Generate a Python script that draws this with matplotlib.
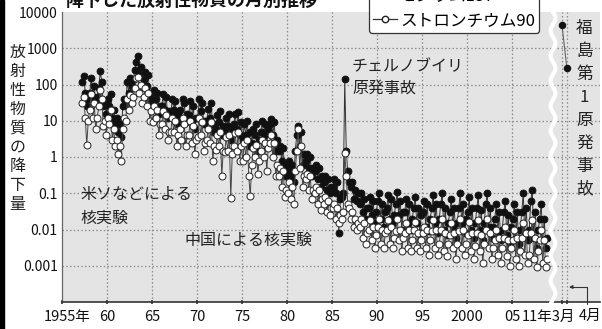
import numpy as np
import matplotlib
matplotlib.use("Agg")
import matplotlib.pyplot as plt
from matplotlib.lines import Line2D
from matplotlib.patches import Rectangle
from matplotlib.transforms import ScaledTranslation

plt.rcParams['font.family'] = ['Noto Sans CJK JP', 'DejaVu Sans']

# bimonthly fallout values (Jan-Feb, Mar-Apr, ... Nov-Dec)
# series starts Mar-Apr 1957
cs137_1957_1969 = [
    120, 170, 60, 25, 40,            # 1957
    60, 150, 45, 90, 30, 45,         # 1958
    80, 230, 120, 25, 35, 15,        # 1959
    40, 25, 55, 12, 20, 8,           # 1960
    12, 5, 8, 3.5, 25, 40,           # 1961
    30, 120, 60, 150, 90, 130,       # 1962
    250, 420, 600, 200, 300, 100,    # 1963
    140, 220, 90, 180, 40, 60,       # 1964
    30, 70, 40, 60, 15, 25,          # 1965
    25, 55, 20, 45, 12, 18,          # 1966
    15, 40, 20, 35, 8, 14,           # 1967
    20, 12, 40, 30, 9, 15,           # 1968
    14, 35, 10, 25, 6, 12,           # 1969
]
cs137_1970_1987 = [
    12, 40, 18, 30, 8, 10,           # 1970
    10, 21, 12, 30, 5, 8,            # 1971
    6, 14, 9, 18, 4, 7,              # 1972
    5, 12, 7, 15, 3, 6,              # 1973
    8, 15, 6, 17, 4, 9,              # 1974
    3, 8, 4, 10, 2, 5,               # 1975
    2.5, 6, 4, 8, 1.5, 3,            # 1976
    5, 10, 4, 8, 2, 6,               # 1977
    8, 11, 4, 9, 1.5, 3,             # 1978
    1.5, 2, 0.8, 1.8, 0.3, 0.6,      # 1979
    0.4, 0.8, 0.3, 0.6, 0.2, 1.5,    # 1980
    4, 7, 2, 5, 0.6, 1.2,            # 1981
    0.8, 1.2, 0.5, 1, 0.3, 0.5,      # 1982
    0.4, 0.6, 0.25, 0.5, 0.15, 0.3,  # 1983
    0.2, 0.3, 0.12, 0.25, 0.1, 0.15, # 1984
    0.15, 0.25, 0.1, 0.2, 0.008, 0.07,  # 1985
    0.08, 0.1, 140, 1.5, 0.4, 0.2,   # 1986
    0.15, 0.2, 0.07, 0.12, 0.06, 0.1,   # 1987
]
cs137_1988_2008 = [
    0.05, 0.1, 0.03, 0.07, 0.02, 0.04,      # 1988
    0.04, 0.08, 0.025, 0.06, 0.015, 0.03,   # 1989
    0.06, 0.1, 0.02, 0.05, 0.012, 0.03,     # 1990
    0.04, 0.09, 0.02, 0.07, 0.015, 0.025,   # 1991
    0.05, 0.11, 0.025, 0.06, 0.01, 0.03,    # 1992
    0.03, 0.07, 0.015, 0.05, 0.01, 0.02,    # 1993
    0.04, 0.08, 0.015, 0.04, 0.008, 0.025,  # 1994
    0.03, 0.06, 0.012, 0.05, 0.009, 0.02,   # 1995
    0.04, 0.09, 0.015, 0.05, 0.008, 0.02,   # 1996
    0.05, 0.1, 0.01, 0.04, 0.007, 0.015,    # 1997
    0.03, 0.07, 0.012, 0.04, 0.006, 0.015,  # 1998
    0.04, 0.1, 0.015, 0.05, 0.008, 0.02,    # 1999
    0.03, 0.08, 0.01, 0.04, 0.006, 0.015,   # 2000
    0.04, 0.09, 0.01, 0.035, 0.005, 0.015,  # 2001
    0.05, 0.1, 0.012, 0.04, 0.006, 0.012,   # 2002
    0.02, 0.05, 0.008, 0.03, 0.005, 0.01,   # 2003
    0.03, 0.06, 0.007, 0.025, 0.004, 0.012, # 2004
    0.02, 0.05, 0.006, 0.03, 0.004, 0.01,   # 2005
    0.03, 0.1, 0.008, 0.04, 0.005, 0.01,    # 2006
    0.06, 0.12, 0.006, 0.03, 0.003, 0.01,   # 2007
    0.02, 0.05, 0.005, 0.02, 0.003, 0.006,  # 2008
]

sr90_1957_1969 = [
    30, 45, 12, 2.2, 10,             # 1957
    20, 55, 12, 30, 6, 12,           # 1958
    25, 70, 40, 7, 10, 4,            # 1959
    12, 8, 20, 3, 6, 2,              # 1960
    3, 1.2, 2, 0.8, 6, 12,           # 1961
    10, 40, 20, 50, 30, 45,          # 1962
    80, 150, 160, 60, 100, 30,       # 1963
    45, 80, 25, 60, 10, 18,          # 1964
    9, 25, 12, 20, 4, 8,             # 1965
    8, 18, 6, 14, 3, 5,              # 1966
    5, 12, 5, 10, 2, 4,              # 1967
    6, 3, 12, 8, 2, 4,               # 1968
    4, 10, 2.5, 7, 1.2, 3,           # 1969
]
sr90_1970_1987 = [
    3.5, 12, 4, 9, 1.5, 2.5,         # 1970
    3, 6, 2.5, 9, 0.8, 2,            # 1971
    1.6, 4, 2, 5, 0.3, 1.5,          # 1972
    1.4, 3.5, 1.5, 4, 0.075, 1.2,    # 1973
    2, 4.5, 1.5, 5, 0.8, 2,          # 1974
    0.8, 2.5, 1, 3, 0.3, 0.085,      # 1975
    0.6, 1.8, 1, 2.2, 0.35, 0.8,     # 1976
    1.5, 3, 1, 2.5, 0.4, 1.8,        # 1977
    2.5, 4, 1, 2.5, 0.3, 0.6,        # 1978
    0.3, 0.5, 0.15, 0.4, 0.08, 0.12, # 1979
    0.1, 0.2, 0.07, 0.15, 0.05, 0.4, # 1980
    1.5, 6, 0.5, 2, 0.15, 0.3,       # 1981
    0.25, 0.35, 0.12, 0.3, 0.07, 0.12,   # 1982
    0.1, 0.15, 0.05, 0.12, 0.035, 0.07,  # 1983
    0.05, 0.08, 0.03, 0.06, 0.025, 0.04, # 1984
    0.04, 0.05, 0.02, 0.04, 0.015, 0.025,  # 1985
    0.02, 0.03, 1.3, 0.3, 0.05, 0.04,    # 1986
    0.02, 0.03, 0.012, 0.02, 0.01, 0.015,  # 1987
]
sr90_1988_2008 = [
    0.012, 0.02, 0.006, 0.015, 0.004, 0.008,    # 1988
    0.01, 0.018, 0.005, 0.012, 0.003, 0.007,    # 1989
    0.012, 0.02, 0.004, 0.01, 0.003, 0.008,     # 1990
    0.01, 0.018, 0.004, 0.012, 0.003, 0.006,    # 1991
    0.009, 0.02, 0.005, 0.01, 0.0025, 0.006,    # 1992
    0.008, 0.015, 0.003, 0.01, 0.0025, 0.005,   # 1993
    0.01, 0.016, 0.003, 0.008, 0.0025, 0.005,   # 1994
    0.008, 0.012, 0.003, 0.01, 0.002, 0.005,    # 1995
    0.009, 0.018, 0.003, 0.01, 0.002, 0.004,    # 1996
    0.01, 0.02, 0.0025, 0.008, 0.0018, 0.004,   # 1997
    0.007, 0.015, 0.003, 0.008, 0.0015, 0.004,  # 1998
    0.009, 0.02, 0.003, 0.01, 0.002, 0.004,     # 1999
    0.007, 0.016, 0.0025, 0.008, 0.0015, 0.0035,  # 2000
    0.008, 0.018, 0.0025, 0.007, 0.0012, 0.004,   # 2001
    0.01, 0.02, 0.003, 0.008, 0.0015, 0.003,      # 2002
    0.005, 0.01, 0.002, 0.006, 0.0012, 0.003,     # 2003
    0.006, 0.012, 0.0018, 0.005, 0.001, 0.003,    # 2004
    0.005, 0.01, 0.0015, 0.006, 0.001, 0.0025,    # 2005
    0.006, 0.015, 0.002, 0.008, 0.0012, 0.002,    # 2006
    0.008, 0.018, 0.0015, 0.006, 0.0009, 0.0025,  # 2007
    0.005, 0.01, 0.0012, 0.005, 0.0009, 0.0015,   # 2008
]

# Fukushima Daiichi, 2011
fuku_labels = ['3月', '4月']
fuku_cs137 = [4400, 280]

year_ticks = [1955, 1960, 1965, 1970, 1975, 1980, 1985, 1990, 1995, 2000, 2005]
year_labels = ['1955年', '60', '65', '70', '75', '80', '85', '90', '95', '2000', '05']
y_ticks = [1e-3, 1e-2, 1e-1, 1, 10, 100, 1000, 10000]
y_labels = ['0.001', '0.01', '0.1', '1', '10', '100', '1000', '10000']

W, H = 602, 329


def fx(px):
    return px / W


def fy(py):
    return 1 - py / H


def bimonth_x(first_year, first_slot, n):
    xs = []
    year, slot = first_year, first_slot
    for _ in range(n):
        xs.append(year + (slot + 0.5) / 6)
        slot += 1
        if slot == 6:
            slot = 0
            year += 1
    return np.array(xs)


cs137 = np.array(cs137_1957_1969 + cs137_1970_1987 + cs137_1988_2008)
sr90 = np.array(sr90_1957_1969 + sr90_1970_1987 + sr90_1988_2008)
x = bimonth_x(1957, 1, len(cs137))

# the 2011 part sits right of the axis break
fuku_x = [2010.55, 2011.1]

fig = plt.figure(figsize=(W / 100, H / 100), dpi=100)
ax = fig.add_axes([fx(62), fy(302), fx(600) - fx(62), fy(12) - fy(302)])
ax.set_facecolor('#e4e4e4')

ax.plot(x, cs137, '-o', color='#333333', lw=0.7, ms=5.0, mfc='#111111',
        mec='#111111', mew=0.6, zorder=3)
ax.plot(x, sr90, '-o', color='#444444', lw=0.7, ms=5.0, mfc='white',
        mec='#222222', mew=0.7, zorder=4)
ax.plot(fuku_x, fuku_cs137, '-o', color='#666666', lw=0.8, ms=4.4,
        mfc='#111111', mec='#111111', zorder=4)

ax.set_yscale('log')
ax.set_ylim(1e-4, 1e4)
ax.set_xlim(1955, 1955 + (600 - 62) / 9)
ax.set_yticks(y_ticks)
ax.set_yticklabels(y_labels)
ax.yaxis.set_minor_locator(matplotlib.ticker.NullLocator())
ax.set_xticks(year_ticks + fuku_x)
ax.set_xticklabels(year_labels + ['11年3月', ''])

for g in y_ticks[:-1]:
    ax.axhline(g, color='#8a8a8a', lw=0.9, ls=(0, (1.2, 1.8)), zorder=1)
for g in year_ticks[1:] + fuku_x:
    ax.axvline(g, color='#8a8a8a', lw=0.9, ls=(0, (1.2, 1.8)), zorder=1)

for s in ['top', 'right']:
    ax.spines[s].set_visible(False)
ax.spines['left'].set_color('#666666')
ax.spines['left'].set_linewidth(0.9)
ax.spines['bottom'].set_color('#333333')
ax.spines['bottom'].set_linewidth(1.2)
ax.tick_params(axis='y', length=0, pad=3, labelsize=10, labelcolor='#111111')
ax.tick_params(axis='x', length=3, direction='inout', width=1.2, color='#333333',
               pad=4, labelsize=10.5, labelcolor='#111111')

labs = ax.get_xticklabels()
labs[0].set_transform(labs[0].get_transform() + ScaledTranslation(0.05, 0, fig.dpi_scale_trans))
labs[-2].set_transform(labs[-2].get_transform() + ScaledTranslation(-0.13, 0, fig.dpi_scale_trans))

# wavy break line
yy = np.linspace(12, 302, 300)
xx = 553 + 2.4 * np.sin(2 * np.pi * (yy - 12) / 25)
fig.add_artist(Line2D(fx(xx), fy(yy), transform=fig.transFigure, color='white',
                      lw=3.0, zorder=5))

# left border strip
fig.add_artist(Rectangle((0, 0), fx(3.5), 1, transform=fig.transFigure,
                         color='black', zorder=6))

# title (cut off by the top edge)
fig.text(fx(66), fy(6), '降下した放射性物質の月別推移', fontsize=13,
         fontweight='bold', color='#111111', va='baseline', ha='left')

# legend
handles = [
    Line2D([], [], color='#333333', lw=0.9, marker='o', ms=4.6, mfc='#111111', mec='#111111'),
    Line2D([], [], color='#333333', lw=0.9, marker='o', ms=4.6, mfc='white', mec='#222222'),
]
leg = fig.legend(handles, ['セシウム137', 'ストロンチウム90'], loc='lower left',
                 bbox_to_anchor=(fx(369), fy(33)), fontsize=12, frameon=True,
                 fancybox=True, framealpha=1, edgecolor='#333333',
                 handlelength=1.4, handletextpad=0.2, borderpad=0.25,
                 labelspacing=0.45, borderaxespad=0)
leg.get_frame().set_linewidth(0.9)
leg.set_zorder(7)


def vtext(xc, y_first, pitch, s, size):
    for i, ch in enumerate(s):
        fig.text(fx(xc), fy(y_first + i * pitch), ch, ha='center', va='center',
                 fontsize=size, color='#222222')


vtext(17.5, 52.5, 19, '放射性物質の降下量', 11.5)
vtext(584.5, 28, 23, '福島第1原発事故', 12)

fig.text(fx(352), fy(67), 'チェルノブイリ', fontsize=11.5, color='#222222', va='center', ha='left')
fig.text(fx(352), fy(89), '原発事故', fontsize=11.5, color='#222222', va='center', ha='left')
fig.text(fx(80), fy(194), '米ソなどによる', fontsize=11.5, color='#222222', va='center', ha='left')
fig.text(fx(80), fy(218), '核実験', fontsize=11.5, color='#222222', va='center', ha='left')
fig.text(fx(184), fy(240), '中国による核実験', fontsize=11.5, color='#222222', va='center', ha='left')

fig.text(fx(590), fy(316), fuku_labels[1], fontsize=10.5, color='#111111', va='center', ha='center')
ax.annotate('', xy=(fx(569), fy(287)), xycoords='figure fraction',
            xytext=(fx(587), fy(304)), textcoords='figure fraction',
            arrowprops=dict(arrowstyle='-|>', color='#333333', lw=0.8,
                            connectionstyle='angle,angleA=90,angleB=0,rad=0',
                            shrinkA=0, shrinkB=0, mutation_scale=5))

fig.savefig('out.png', dpi=100)
